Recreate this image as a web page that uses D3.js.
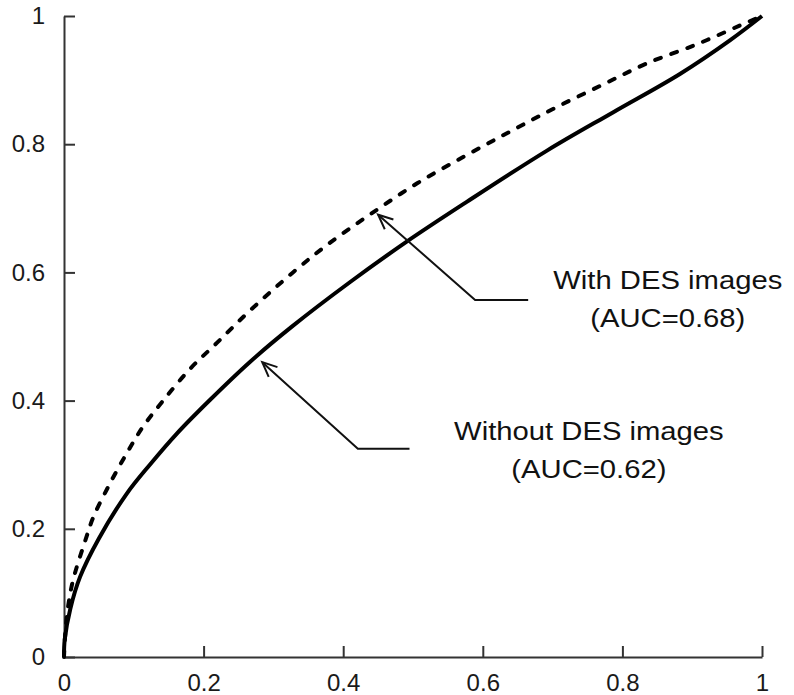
<!DOCTYPE html>
<html>
<head>
<meta charset="utf-8">
<script src="https://cdn.jsdelivr.net/npm/d3@7"></script>
<style>
  body { margin: 0; background: #fff; }
  svg { display: block; }
  text { font-family: "Liberation Sans", Arial, sans-serif; }
</style>
</head>
<body>
<svg width="794" height="695"></svg>
<script>
// ROC curves
const withX    = [0, 0.002, 0.006, 0.013, 0.03, 0.042, 0.066, 0.09, 0.113, 0.142, 0.181, 0.219, 0.266, 0.328, 0.377, 0.438, 0.506, 0.577, 0.643, 0.706, 0.772, 0.835, 0.907, 0.968, 1];
const withY    = [0, 0.04, 0.08, 0.12, 0.18, 0.218, 0.271, 0.318, 0.359, 0.40, 0.45, 0.49, 0.54, 0.60, 0.643, 0.69, 0.739, 0.783, 0.822, 0.858, 0.893, 0.926, 0.956, 0.985, 1];
const withoutX = [0, 0.001, 0.009, 0.023, 0.05, 0.09, 0.123, 0.162, 0.209, 0.266, 0.326, 0.41, 0.491, 0.577, 0.692, 0.787, 0.883, 0.954, 1];
const withoutY = [0, 0.027, 0.075, 0.125, 0.185, 0.255, 0.30, 0.349, 0.401, 0.46, 0.515, 0.585, 0.648, 0.71, 0.79, 0.85, 0.91, 0.962, 1];

const ticks = [0, 0.2, 0.4, 0.6, 0.8, 1];
const tickLabels = ["0", "0.2", "0.4", "0.6", "0.8", "1"];

// annotation: arrow tip, elbow, end of tail (data units) and label lines
const withArrow = [[0.45, 0.69], [0.589, 0.557], [0.665, 0.557]];
const withoutArrow = [[0.284, 0.46], [0.421, 0.325], [0.495, 0.325]];
const withLabel = ["With DES images", "(AUC=0.68)"];
const withoutLabel = ["Without DES images", "(AUC=0.62)"];

const sv = d3.select("svg");
const x = d3.scaleLinear().domain([0, 1]).range([64, 762]);
const y = d3.scaleLinear().domain([0, 1]).range([657, 16]);

const fmt = (d) => tickLabels[ticks.indexOf(d)];

// axes
const ya = sv.append("g").attr("transform", "translate(64,0)")
    .call(d3.axisLeft(y).tickValues(ticks).tickFormat(fmt)
        .tickSizeInner(-11).tickSizeOuter(0).tickPadding(19));
const xa = sv.append("g").attr("transform", "translate(0,657)")
    .call(d3.axisBottom(x).tickValues(ticks).tickFormat(fmt)
        .tickSizeInner(-11).tickSizeOuter(0).tickPadding(17));

[ya, xa].forEach(function (g) {
    g.attr("font-size", 24).attr("font-family", "Liberation Sans, Arial, sans-serif");
    g.select(".domain").attr("stroke", "#333").attr("stroke-width", 2);
    g.selectAll(".tick line").attr("stroke", "#333").attr("stroke-width", 2);
    g.selectAll(".tick text").attr("fill", "#1a1a1a").attr("font-size", 24);
});

// curves
const ln = d3.line().x(d => x(d[0])).y(d => y(d[1])).curve(d3.curveCatmullRom.alpha(0.5));

sv.append("path")
    .datum(d3.zip(withoutX, withoutY))
    .attr("d", ln)
    .attr("fill", "none")
    .attr("stroke", "#000")
    .attr("stroke-width", 4)
    .attr("stroke-linejoin", "round");

sv.append("path")
    .datum(d3.zip(withX, withY))
    .attr("d", ln)
    .attr("fill", "none")
    .attr("stroke", "#000")
    .attr("stroke-width", 4)
    .attr("stroke-linecap", "round")
    .attr("stroke-dasharray", "6,11");

// arrows
const straight = d3.line().x(d => x(d[0])).y(d => y(d[1]));

function arrow(pts) {
    sv.append("path")
        .attr("d", straight(pts))
        .attr("fill", "none")
        .attr("stroke", "#111")
        .attr("stroke-width", 2);
    const tx = x(pts[0][0]), ty = y(pts[0][1]);
    const ang = Math.atan2(y(pts[1][1]) - ty, x(pts[1][0]) - tx);
    const hl = 16, sp = 0.42;
    const head = [
        [tx + hl * Math.cos(ang - sp), ty + hl * Math.sin(ang - sp)],
        [tx, ty],
        [tx + hl * Math.cos(ang + sp), ty + hl * Math.sin(ang + sp)]
    ];
    sv.append("path")
        .attr("d", d3.line()(head))
        .attr("fill", "none")
        .attr("stroke", "#111")
        .attr("stroke-width", 2);
}
arrow(withArrow);
arrow(withoutArrow);

// labels
function label(lines, cx, y0, y1) {
    [y0, y1].forEach(function (yy, i) {
        sv.append("text")
            .attr("transform", "translate(" + x(cx) + "," + y(yy) + ") scale(1.17,1)")
            .attr("text-anchor", "middle")
            .attr("font-size", 25)
            .attr("fill", "#111")
            .text(lines[i]);
    });
}
label(withLabel, 0.865, 0.574, 0.515);
label(withoutLabel, 0.752, 0.339, 0.279);
</script>
</body>
</html>
